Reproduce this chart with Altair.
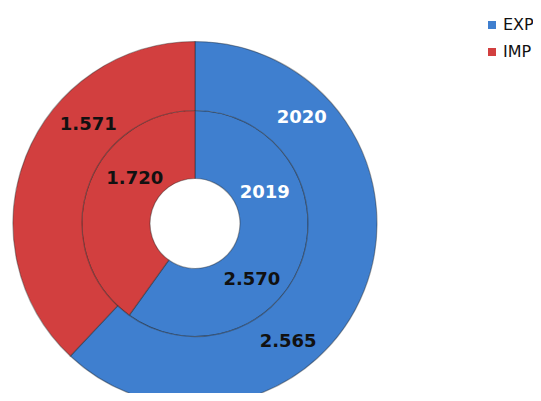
import math
import altair as alt
import pandas as pd

# ---- data ----
years = ["2019", "2020"]
flows = ["EXP", "IMP"]
exp_values = [2.570, 2.565]
imp_values = [1.720, 1.571]

# ---- styling / layout ----
colors = ["#3f7fcf", "#d23f3f"]
CX, CY = 187, 215.5
ring = {"2019": (45, 113), "2020": (113, 182)}
# label placement (angle in degrees clockwise from 12 o'clock, radius px)
value_label_pos = {
    ("2019", "EXP"): (134.7, 80),
    ("2019", "IMP"): (306.6, 75),
    ("2020", "EXP"): (141.9, 151),
    ("2020", "IMP"): (312.6, 145),
}
year_label_pos = {"2019": (66.5, 76), "2020": (45.4, 150)}

rows = []
for y, e, i in zip(years, exp_values, imp_values):
    rows.append({"year": y, "flow": "EXP", "value": e, "order": 0})
    rows.append({"year": y, "flow": "IMP", "value": i, "order": 1})
df = pd.DataFrame(rows)

vl_rows = []
for r in rows:
    ang, rad = value_label_pos[(r["year"], r["flow"])]
    vl_rows.append({"text": f"{r['value']:.3f}", "pos": ang / 360.0, "r": rad})
vl_df = pd.DataFrame(vl_rows)

yl_df = pd.DataFrame(
    [{"text": y, "pos": year_label_pos[y][0] / 360.0, "r": year_label_pos[y][1]} for y in years]
)

theta_scale = alt.Scale(domain=[0, 1], range=[0, 2 * math.pi])
color_scale = alt.Scale(domain=flows, range=colors)
legend = alt.Legend(
    title=None, orient="none", legendX=476, legendY=9,
    symbolType="square", symbolSize=64, symbolStrokeWidth=0,
    labelFont="DejaVu Sans", labelFontSize=16, labelColor="#111",
    rowPadding=11, labelOffset=3, padding=0, labelLimit=0,
)

base = (
    alt.Chart(df)
    .transform_joinaggregate(total="sum(value)", groupby=["year"])
    .transform_window(cum="sum(value)", groupby=["year"],
                      sort=[alt.SortField("order")], frame=[None, 0])
    .transform_calculate(t0="(datum.cum - datum.value) / datum.total",
                         t1="datum.cum / datum.total")
)

layers = []
for yr in years:
    r_in, r_out = ring[yr]
    layers.append(
        base.transform_filter(alt.datum.year == yr)
        .mark_arc(radius=r_out, radius2=r_in, stroke="#222222",
                  strokeOpacity=0.4, strokeWidth=1.2)
        .encode(
            theta=alt.Theta("t0:Q", scale=theta_scale),
            theta2="t1:Q",
            color=alt.Color("flow:N", scale=color_scale, legend=legend),
            x=alt.value(CX), y=alt.value(CY),
        )
    )

value_text = alt.Chart(vl_df).mark_text(
    font="DejaVu Sans", fontWeight="bold", fontSize=18,
    align="center", baseline="middle", color="#111111",
).encode(
    theta=alt.Theta("pos:Q", scale=theta_scale),
    radius=alt.Radius("r:Q", scale=None),
    text="text:N",
    x=alt.value(CX), y=alt.value(CY),
)

year_text = alt.Chart(yl_df).mark_text(
    font="DejaVu Sans", fontWeight="bold", fontSize=18,
    align="center", baseline="middle", color="#ffffff",
).encode(
    theta=alt.Theta("pos:Q", scale=theta_scale),
    radius=alt.Radius("r:Q", scale=None),
    text="text:N",
    x=alt.value(CX), y=alt.value(CY),
)

chart = (
    alt.layer(*layers, value_text, year_text)
    .properties(width=525, height=385, padding=0, autosize="none", background="white")
    .configure_view(stroke=None)
)

chart.save("out.html", embed_options={"renderer": "svg", "actions": False})
